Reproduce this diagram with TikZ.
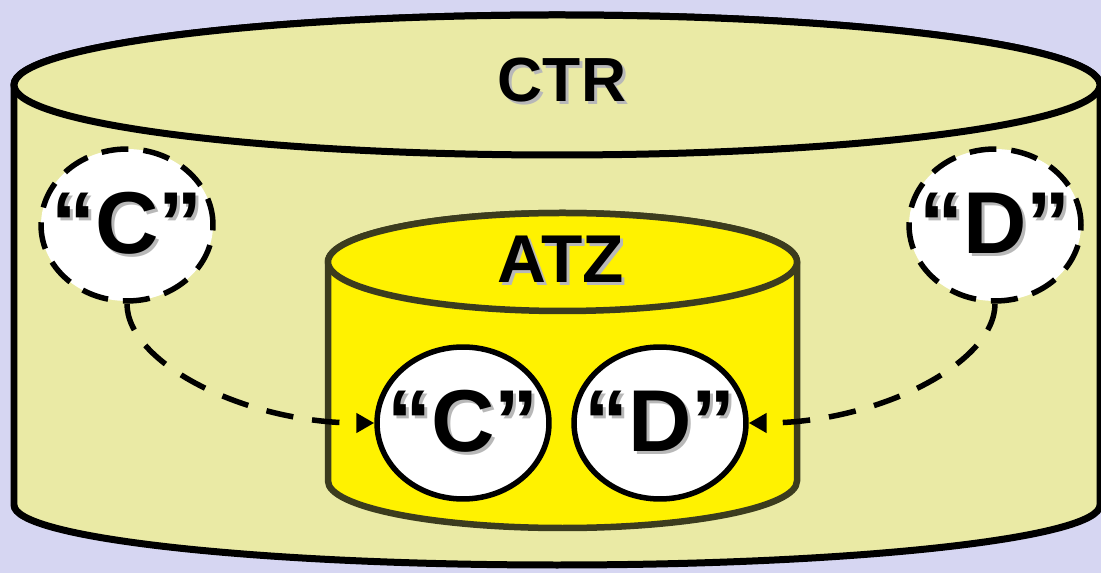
\documentclass[tikz,border=0pt]{standalone}
\usepackage{fontspec}
\setmainfont{Liberation Sans}
\usetikzlibrary{shapes.geometric,arrows.meta}
\definecolor{lavender}{RGB}{214,214,242}
\definecolor{paleyellow}{RGB}{234,234,165}
\definecolor{rimgray}{RGB}{60,60,30}
\newcommand{\shadowed}[1]{\makebox[0pt][l]{\hspace{0.06cm}\raisebox{-0.06cm}{\color{black!28}#1}}#1}
\tikzset{
  title/.style={font=\bfseries\fontsize{35.5}{36}\selectfont},
  bubble/.style={ellipse, draw, line width=0.11cm, fill=white, minimum width=3.44cm,
    minimum height=3.04cm, inner sep=0pt, font=\bfseries\fontsize{50}{50}\selectfont},
  ghost/.style={bubble, dash pattern=on 0.54cm off 0.3cm},
  flow/.style={line width=0.11cm, dash pattern=on 0.55cm off 0.38cm,
    -{Triangle[length=0.36cm,width=0.38cm]}}
}
\begin{document}
\begin{tikzpicture}[x=0.02cm, y=0.02cm]
    \fill[lavender] (0,0) rectangle (1101,-573);
    \useasboundingbox (0,0) rectangle (1101,-573);
    \filldraw[fill=paleyellow, line width=0.14cm] (14,-85) -- (14,-505) arc (180:360:543 and 60) -- (1100,-85) arc (0:180:543 and 70) -- cycle;
    \filldraw[fill=paleyellow, line width=0.14cm] (557,-85) ellipse (543 and 70);
    \filldraw[fill=yellow, draw=rimgray, line width=0.13cm] (328,-262) -- (328,-481) arc (180:360:234.5 and 47) -- (797,-262) arc (0:180:234.5 and 49) -- cycle;
    \filldraw[fill=yellow, draw=rimgray, line width=0.13cm] (562.5,-262) ellipse (234.5 and 49);

    \node[title] (ctr) at (562,-82) {\shadowed{CTR}};
    \node[title, font=\bfseries\fontsize{38.5}{39}\selectfont] (atz) at (561,-261) {\shadowed{ATZ}};
    \foreach \x/\txt/\nm in {127/C/outC,995/D/outD}
    {
        \node[ghost] (\nm) at (\x,-225) {\makebox[0pt]{\shadowed{“\txt”}}};
    }
    \foreach \x/\txt/\nm in {463/C/inC,660/D/inD}
    {
        \node[bubble] (\nm) at (\x,-423) {\makebox[0pt]{\shadowed{“\txt”}}};
    }

\draw[flow] (outC.south) .. controls +(0,-60) and +(-128,0) .. (inC.west);
\draw[flow] (outD.south) .. controls +(0,-60) and +(128,0) .. (inD.east);
\end{tikzpicture}
\end{document}
